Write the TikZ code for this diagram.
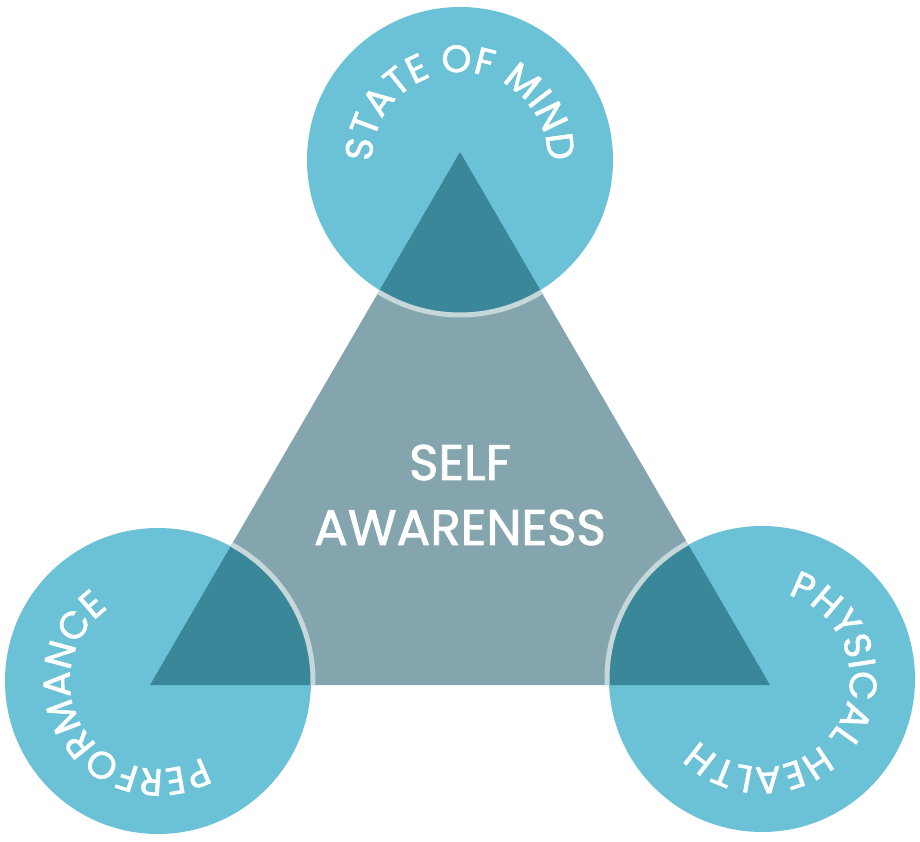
\documentclass[tikz,border=0pt]{standalone}
\usepackage{fontspec}
\setmainfont{Poppins}[FakeBold=1.6]
\usetikzlibrary{decorations.text}
\definecolor{circ}{HTML}{6BC2D7}
\definecolor{over}{HTML}{3A8799}
\definecolor{tri}{HTML}{84A5AD}
\definecolor{ring}{HTML}{C6D7DA}
\begin{document}
\begin{tikzpicture}[x=1pt,y=1pt,
  arctext/.style={decorate, decoration={text along path, text align=fit to path,
     text={|\fontsize{38}{40}\selectfont\color{white}|#1}}},
  bigtext/.style={anchor=base, text=white, inner sep=0pt, font=\fontsize{50}{60}\selectfont}]
\useasboundingbox (0,0) rectangle (920,841);
\coordinate (T) at (460,689);
\coordinate (L) at (150,156);
\coordinate (R) at (770,156);
\coordinate (cT) at (460,681);
\coordinate (cL) at (158,160);
\coordinate (cR) at (762,162);
\fill[tri] (T) -- (L) -- (R) -- cycle;
\foreach \c in {cT,cL,cR} \fill[circ] (\c) circle[radius=153];
\begin{scope}
  \clip (T) -- (L) -- (R) -- cycle;
  \foreach \c in {cT,cL,cR} \fill[over] (\c) circle[radius=153];
  \foreach \c in {cT,cL,cR} \draw[ring, line width=5] (\c) circle[radius=155];
\end{scope}
\path[arctext={STATE OF MIND}] (cT) ++(181:88) arc[start angle=181, end angle=-1, radius=88];
\path[arctext={PERFORMANCE}] (cL) ++(-59.5:88) arc[start angle=-59.5, end angle=-230.6, radius=88];
\path[arctext={PHYSICAL HEALTH}] (cR) ++(73:88) arc[start angle=73, end angle=-136.4, radius=88];
\node[bigtext] (self) at (460,361) {SELF};
\node[bigtext] (aware) at (460,296) {AWARENESS};
\end{tikzpicture}
\end{document}
